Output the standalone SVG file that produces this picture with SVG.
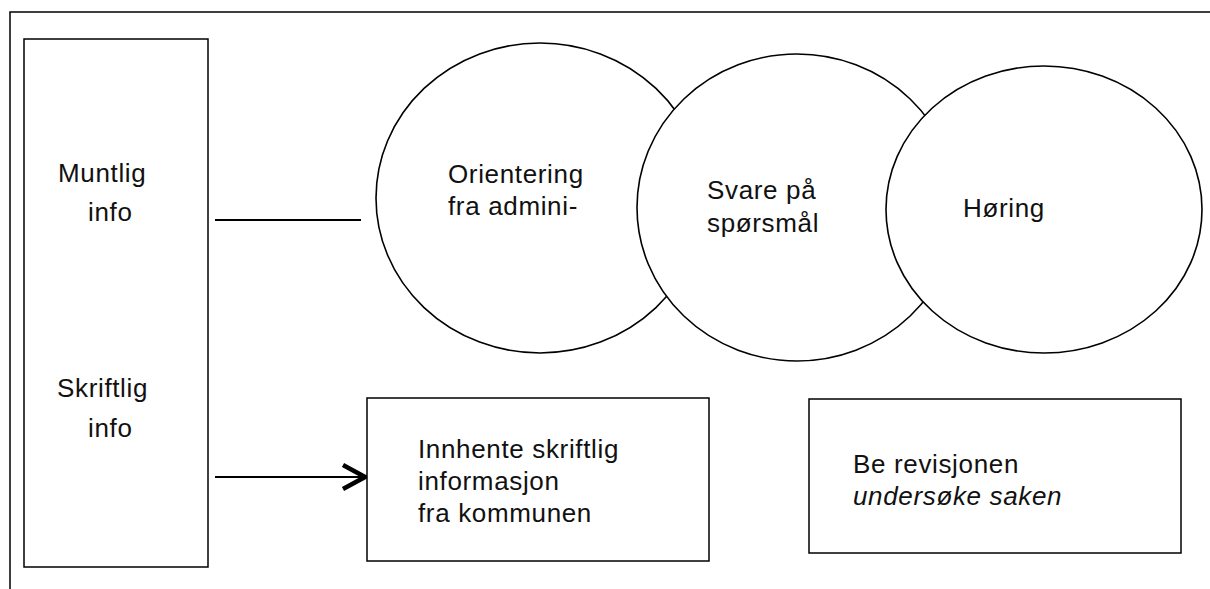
<svg xmlns="http://www.w3.org/2000/svg" width="1210" height="589" viewBox="0 0 1210 589">
<style>
  .frame{fill:none;stroke:#000;stroke-width:1.5}
  .box{fill:#fff;stroke:#000;stroke-width:1.5}
  .circ{fill:#fff;stroke:#000;stroke-width:1.6}
  .conn{fill:none;stroke:#000;stroke-width:2.2}
  text{font-family:"Liberation Sans",Arial,sans-serif;font-size:26px;letter-spacing:0.65px;fill:#111}
</style>
<defs>
  <marker id="chev" markerUnits="userSpaceOnUse" markerWidth="30" markerHeight="30" viewBox="0 0 30 30" refX="26" refY="15" orient="auto">
    <polyline points="4,3 26,15 4,27" fill="none" stroke="#000" stroke-width="4.5" stroke-linejoin="miter"/>
  </marker>
</defs>
<rect width="1210" height="589" fill="#fff"/>
<g id="frame">
  <polyline class="frame" points="10,589 10,12 1210,12"/>
</g>
<g id="left-panel">
  <rect class="box" x="24" y="39" width="184" height="528"/>
  <text x="58" y="182">Muntlig</text>
  <text x="88" y="221">info</text>
  <text x="57" y="397">Skriftlig</text>
  <text x="88" y="437">info</text>
</g>
<g id="connectors">
  <line class="conn" x1="215" y1="220" x2="361" y2="220"/>
  <line class="conn" x1="215" y1="477" x2="365" y2="477" marker-end="url(#chev)"/>
</g>
<g id="orientering">
  <ellipse class="circ" cx="540" cy="198" rx="164" ry="155"/>
  <text x="448" y="183">Orientering</text>
  <text x="448" y="215">fra admini-</text>
</g>
<g id="svare">
  <ellipse class="circ" cx="797" cy="207.5" rx="160" ry="153.5"/>
  <text x="707" y="199">Svare på</text>
  <text x="707" y="232">spørsmål</text>
</g>
<g id="horing">
  <ellipse class="circ" cx="1044" cy="209.5" rx="158" ry="143.5"/>
  <text x="963" y="217">Høring</text>
</g>
<g id="innhente">
  <rect class="box" x="367" y="398" width="342" height="163"/>
  <text x="418" y="458">Innhente skriftlig</text>
  <text x="418" y="490">informasjon</text>
  <text x="418" y="522">fra kommunen</text>
</g>
<g id="revisjonen">
  <rect class="box" x="809" y="399" width="372" height="154"/>
  <text x="853" y="473">Be revisjonen</text>
  <text x="853" y="505" font-style="italic">undersøke saken</text>
</g>
</svg>
